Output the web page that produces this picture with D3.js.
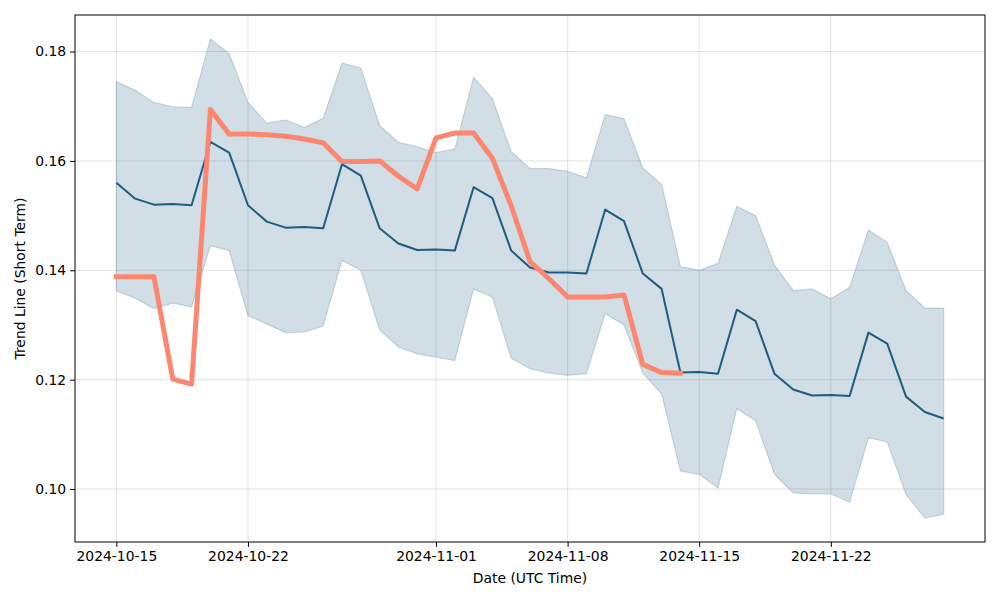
<!DOCTYPE html>
<html>
<head>
<meta charset="utf-8">
<script src="https://cdn.jsdelivr.net/npm/d3@7"></script>
<style>
  html, body { margin: 0; padding: 0; background: #fff; }
  svg { display: block; font-family: "DejaVu Sans", sans-serif; }
</style>
</head>
<body>
<svg id="chart" width="1000" height="600"></svg>
<script>
// ---- data ----
const startDate = "2024-10-15";
const endDate = "2024-11-28";
const tickLabels = ["2024-10-15", "2024-10-22", "2024-11-01", "2024-11-08", "2024-11-15", "2024-11-22"];

const meanValues = [
  0.1560, 0.1531, 0.1520, 0.1521, 0.1519, 0.1635, 0.1615, 0.1519, 0.1489, 0.1478,
  0.1479, 0.1477, 0.1594, 0.1573, 0.1477, 0.1449, 0.1437, 0.1438, 0.1436, 0.1552,
  0.1532, 0.1436, 0.1405, 0.1396, 0.1396, 0.1394, 0.1511, 0.1490, 0.1394, 0.1366,
  0.1213, 0.1214, 0.1211, 0.1328, 0.1307, 0.1211, 0.1182, 0.1171, 0.1172, 0.1170,
  0.1286, 0.1266, 0.1169, 0.1141, 0.1129
];
const upperValues = [
  0.1745, 0.1729, 0.1707, 0.1699, 0.1698, 0.1823, 0.1796, 0.1707, 0.1669, 0.1675,
  0.1661, 0.1678, 0.1779, 0.1770, 0.1665, 0.1634, 0.1626, 0.1615, 0.1622, 0.1753,
  0.1714, 0.1617, 0.1586, 0.1586, 0.1581, 0.1569, 0.1685, 0.1677, 0.1587, 0.1557,
  0.1407, 0.1400, 0.1413, 0.1517, 0.1500, 0.1410, 0.1363, 0.1366, 0.1348, 0.1369,
  0.1474, 0.1451, 0.1363, 0.1331, 0.1331
];
const lowerValues = [
  0.1362, 0.1349, 0.1330, 0.1340, 0.1333, 0.1445, 0.1436, 0.1317, 0.1302, 0.1286,
  0.1287, 0.1298, 0.1418, 0.1400, 0.1291, 0.1260, 0.1247, 0.1241, 0.1235, 0.1366,
  0.1351, 0.1239, 0.1220, 0.1212, 0.1208, 0.1211, 0.1321, 0.1300, 0.1212, 0.1174,
  0.1033, 0.1027, 0.1002, 0.1147, 0.1125, 0.1027, 0.0993, 0.0991, 0.0991, 0.0976,
  0.1094, 0.1086, 0.0990, 0.0947, 0.0954
];
const trendValues = [
  0.1388, 0.1388, 0.1388, 0.1201, 0.1192, 0.1694, 0.1649, 0.1649, 0.1648, 0.1645,
  0.1640, 0.1633, 0.1599, 0.1599, 0.1600, 0.1572, 0.1549, 0.1642, 0.1651, 0.1651,
  0.1605, 0.1518, 0.1416, 0.1385, 0.1351, 0.1351, 0.1351, 0.1355, 0.1228, 0.1213,
  0.1212
];
const yTicks = [0.10, 0.12, 0.14, 0.16, 0.18];

// ---- layout ----
const svg = d3.select("#chart");
const margin = { left: 75, top: 15, right: 15, bottom: 58 };
const W = 1000, H = 600;
const iw = W - margin.left - margin.right;
const ih = H - margin.top - margin.bottom;

const parse = d3.utcParse("%Y-%m-%d");
const dates = d3.utcDays(parse(startDate), d3.utcDay.offset(parse(endDate), 1));

const rows = dates.map((d, i) => ({
  date: d, mean: meanValues[i], upper: upperValues[i], lower: lowerValues[i],
  trend: i < trendValues.length ? trendValues[i] : null
}));

// matplotlib-style 5% margins
const t0 = +dates[0], t1 = +dates[dates.length - 1];
const tp = (t1 - t0) * 0.05;
const x = d3.scaleUtc().domain([new Date(t0 - tp), new Date(t1 + tp)]).range([margin.left, margin.left + iw]);
const yMin = d3.min(lowerValues.concat(trendValues));
const yMax = d3.max(upperValues.concat(trendValues));
const yp = (yMax - yMin) * 0.05;
const y = d3.scaleLinear().domain([yMin - yp, yMax + yp]).range([margin.top + ih, margin.top]);

const tickDates = tickLabels.map(parse);
const fontSize = 13.9;

// grid
const grid = svg.append("g");
grid.selectAll("line.gx").data(tickDates).join("line")
  .attr("x1", d => x(d)).attr("x2", d => x(d))
  .attr("y1", margin.top).attr("y2", margin.top + ih)
  .attr("stroke", "#b0b0b0").attr("stroke-opacity", 0.35).attr("stroke-width", 1);
grid.selectAll("line.gy").data(yTicks).join("line")
  .attr("x1", margin.left).attr("x2", margin.left + iw)
  .attr("y1", d => y(d)).attr("y2", d => y(d))
  .attr("stroke", "#b0b0b0").attr("stroke-opacity", 0.35).attr("stroke-width", 1);

const mainColor = "#1c5c7e";

// band
const area = d3.area().x(d => x(d.date)).y0(d => y(d.lower)).y1(d => y(d.upper));
svg.append("path").datum(rows).attr("d", area)
  .attr("fill", mainColor).attr("fill-opacity", 0.2)
  .attr("stroke", mainColor).attr("stroke-opacity", 0.2).attr("stroke-width", 1.2);

// mean line
const line = d3.line().x(d => x(d.date)).y(d => y(d.mean));
svg.append("path").datum(rows).attr("d", line)
  .attr("fill", "none").attr("stroke", mainColor).attr("stroke-width", 2)
  .attr("stroke-linejoin", "round");

// trend line
const tline = d3.line().defined(d => d.trend !== null).x(d => x(d.date)).y(d => y(d.trend));
svg.append("path").datum(rows.filter(d => d.trend !== null)).attr("d", tline)
  .attr("fill", "none").attr("stroke", "#fd8670").attr("stroke-width", 5)
  .attr("stroke-linejoin", "round").attr("stroke-linecap", "square");

// axes
const xAxis = d3.axisBottom(x).tickValues(tickDates).tickFormat(d3.utcFormat("%Y-%m-%d"))
  .tickSize(4.9).tickPadding(4);
const yAxis = d3.axisLeft(y).tickValues(yTicks).tickFormat(d3.format(".2f"))
  .tickSize(4.9).tickPadding(4);

const gx = svg.append("g").attr("transform", `translate(0,${margin.top + ih})`).call(xAxis);
const gy = svg.append("g").attr("transform", `translate(${margin.left},0)`).call(yAxis);
[gx, gy].forEach(g => {
  g.select(".domain").remove();
  g.selectAll(".tick line").attr("stroke", "#000").attr("stroke-width", 1);
  g.selectAll(".tick text").attr("fill", "#000").attr("font-size", fontSize)
    .attr("font-family", "DejaVu Sans, sans-serif");
});

// frame
svg.append("rect").attr("x", margin.left).attr("y", margin.top)
  .attr("width", iw).attr("height", ih)
  .attr("fill", "none").attr("stroke", "#000").attr("stroke-width", 1);

// labels
svg.append("text").attr("x", margin.left + iw / 2).attr("y", 583)
  .attr("text-anchor", "middle").attr("font-size", fontSize).text("Date (UTC Time)");
svg.append("text").attr("transform", `translate(25,${margin.top + ih / 2}) rotate(-90)`)
  .attr("text-anchor", "middle").attr("font-size", fontSize).text("Trend Line (Short Term)");
</script>
</body>
</html>
